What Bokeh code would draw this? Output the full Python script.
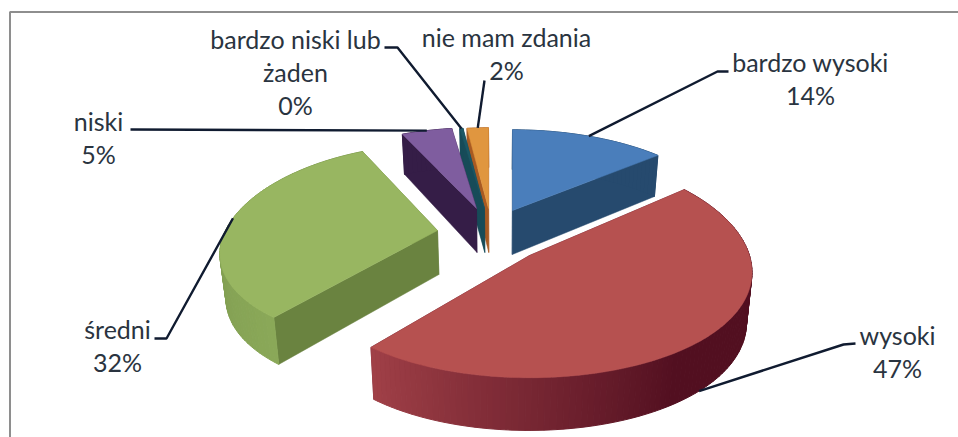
import math
from bokeh.plotting import figure
from bokeh.models import Range1d
from bokeh.core.properties import value
from bokeh.embed import file_html
from bokeh.resources import INLINE

# data
categories = ["bardzo wysoki", "wysoki", "średni", "niski", "bardzo niski lub żaden", "nie mam zdania"]
shares = [14.0, 47.0, 32.0, 4.7, 0.3, 2.0]
shown_percent = [14, 47, 32, 5, 0, 2]

# layout (page pixels) of each exploded slice: apex, radii, perspective
apex_x = [512, 529, 437, 476, 484, 488]
apex_y = [210, 255, 230, 208, 208, 208]
radius_x = [216, 220, 212, 210, 210, 210]
radius_y = [99, 110, 99.5, 99, 99, 99]
persp_x = [0.227, 0.15, 0.227, 0.227, 0.227, 0.227]
persp_y = [0.227, 0.10, 0.155, 0.227, 0.227, 0.227]
depth = [44, 50, 44, 44, 44, 44]
TILT = 0.022
TILT_X = 500

top_colors = ["#4A7EBB", "#B65150", "#98B661", "#7F5D9F", "#1B5765", "#E0963F"]
wall_colors = ["#264A6E", "#5A1022", "#6A8340", "#351D47", "#174B58", "#A85A22"]
rim_from = ["#264A6E", "#A04047", "#6F8B45", "#351D47", "#174B58", "#A85A22"]
rim_to = ["#264A6E", "#520F20", "#8AA858", "#351D47", "#174B58", "#A85A22"]
draw_order = [0, 5, 4, 3, 2, 1]

label_lines = [["bardzo wysoki"], ["wysoki"], ["średni"], ["niski"], ["bardzo niski lub", "żaden"], ["nie mam zdania"]]
label_x = [810, 897, 117, 98, 295, 506]
label_y = [61, 334, 328, 120, 38, 36]
line_step = 33
elbow_x = [[717, 728], [843, 855], [166, 154], [130], [397, 384], [484]]
elbow_y = [[71, 71], [344, 343], [338, 338], [129], [47, 47], [80]]

W, H = 958, 437
p = figure(width=W, height=H, x_range=Range1d(0, W), y_range=Range1d(H, 0),
           output_backend="svg", toolbar_location=None, min_border=0)
p.xaxis.visible = False
p.yaxis.visible = False
p.grid.visible = False
p.outline_line_color = None
p.background_fill_color = "white"
p.border_fill_color = "white"

# chart frame
p.line([9.5, 9.5, 958], [437, 11.5, 11.5], line_color="#8E8E8E", line_width=2)


def rim(i, t):
    X, Y = math.sin(t), -math.cos(t)
    sx = 1 / (1 - persp_x[i] * Y)
    sy = 1 / (1 - persp_y[i] * Y)
    return apex_x[i] + radius_x[i] * X * sx, apex_y[i] + radius_y[i] * Y * sy, sy


def bottom(i, x, y, s):
    return x + (TILT_X - x) * TILT, y + depth[i] * s ** 0.5


def hex_mix(a, b, f):
    ca = [int(a[j:j + 2], 16) for j in (1, 3, 5)]
    cb = [int(b[j:j + 2], 16) for j in (1, 3, 5)]
    return "#%02x%02x%02x" % tuple(round(u + (v - u) * f) for u, v in zip(ca, cb))


total = sum(shares)
starts, ends, acc = [], [], 0.0
for v in shares:
    starts.append(acc / total * 2 * math.pi)
    acc += v
    ends.append(acc / total * 2 * math.pi)

for i in draw_order:
    t0, t1 = starts[i], ends[i]
    n = max(4, int((t1 - t0) / 0.025))
    ts = [t1 + (t0 - t1) * k / n for k in range(n + 1)]  # from the end going back
    pts = [rim(i, t) for t in ts]
    bots = [bottom(i, *q) for q in pts]
    # flat cut walls
    ab = bottom(i, apex_x[i], apex_y[i], 1)
    for q, b in ((pts[0], bots[0]), (pts[-1], bots[-1])):
        p.patch([apex_x[i], q[0], b[0], ab[0]], [apex_y[i], q[1], b[1], ab[1]],
                fill_color=wall_colors[i], line_color=wall_colors[i], line_width=0.5)
    # outer wall as small shaded strips
    for k in range(n):
        f = k / max(1, n - 1)
        if i == 1:
            f = min(1, max(0, (k / n * (t1 - t0)) / math.radians(75)))
        c = hex_mix(rim_from[i], rim_to[i], f)
        xs = [pts[k][0], pts[k + 1][0], bots[k + 1][0], bots[k][0]]
        ys = [pts[k][1], pts[k + 1][1], bots[k + 1][1], bots[k][1]]
        p.patch(xs, ys, fill_color=c, line_color=c, line_width=1)
    # top face
    p.patch([apex_x[i]] + [q[0] for q in pts], [apex_y[i]] + [q[1] for q in pts],
            fill_color=top_colors[i], line_color=top_colors[i], line_width=0.5)

# leader lines, starting on each slice's mid angle
for i in range(len(shares)):
    x0, y0, s = rim(i, 0.5 * (starts[i] + ends[i]))
    if i == 1:
        x0, y0 = bottom(i, x0, y0, s)
    p.line([x0] + elbow_x[i], [y0] + elbow_y[i], line_color="#101B30", line_width=2.4)

# labels
FONT = value("Lato")
TXT = "#2A3440"
for i, lines in enumerate(label_lines):
    rows = lines + [f"{shown_percent[i]}%"]
    for r, row in enumerate(rows):
        p.text([label_x[i]], [label_y[i] + r * line_step], text=[row], text_font=FONT,
               text_font_size="25px", text_color=TXT, text_align="center", text_baseline="middle")

open("out.html", "w").write(file_html(p, INLINE))
